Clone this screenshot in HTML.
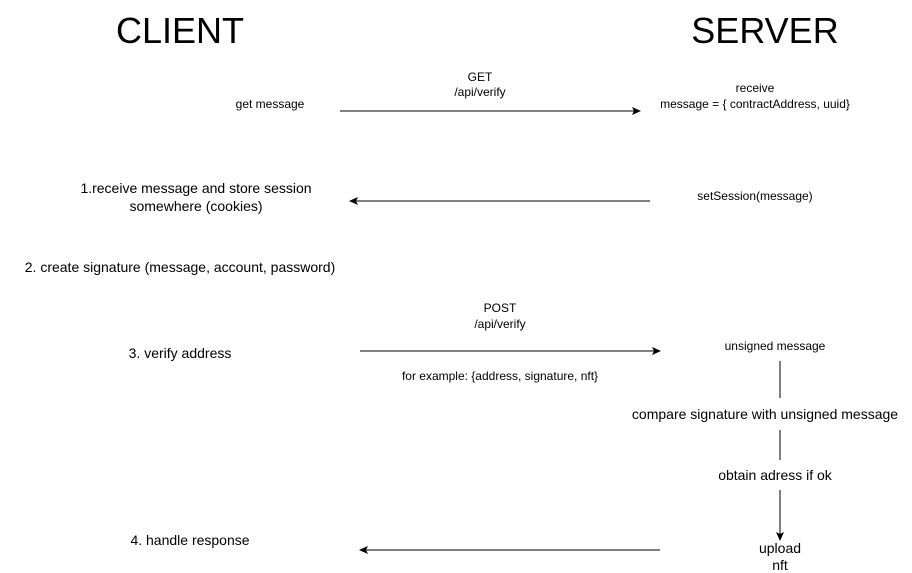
<!DOCTYPE html>
<html><head><meta charset="utf-8"><style>
html,body{margin:0;padding:0;background:#fff;}
svg{display:block;}
text{font-family:"Liberation Sans",Arial,sans-serif;fill:#000;text-anchor:middle;}
.s{font-size:12px;}
.m{font-size:14px;}
.t{font-size:36px;}
</style></head><body>
<svg width="912" height="573" viewBox="0 0 912 573" xmlns="http://www.w3.org/2000/svg">
<defs>
<marker id="a" markerWidth="10" markerHeight="10" refX="8" refY="5" orient="auto" markerUnits="userSpaceOnUse">
<path d="M0,1 L9,5 L0,9 L2,5 Z" fill="#000"/>
</marker>
</defs>
<text class="t" x="180" y="43">CLIENT</text>
<text class="t" x="765" y="43">SERVER</text>

<text class="s" x="270" y="108">get message</text>
<text class="s" x="480" y="81">GET</text>
<text class="s" x="480" y="96">/api/verify</text>
<line x1="340" y1="111" x2="640" y2="111" stroke="#000" stroke-width="1" marker-end="url(#a)"/>
<text class="s" x="755" y="92">receive</text>
<text class="s" x="755" y="108">message = { contractAddress, uuid}</text>

<text class="m" x="196" y="193">1.receive message and store session</text>
<text class="m" x="196" y="211">somewhere (cookies)</text>
<text class="s" x="755" y="200">setSession(message)</text>
<line x1="650" y1="201" x2="350" y2="201" stroke="#000" stroke-width="1" marker-end="url(#a)"/>

<text class="m" x="180" y="272">2. create signature (message, account, password)</text>

<text class="s" x="500" y="312">POST</text>
<text class="s" x="500" y="328">/api/verify</text>
<text class="m" x="180" y="358">3. verify address</text>
<line x1="360" y1="351" x2="660" y2="351" stroke="#000" stroke-width="1" marker-end="url(#a)"/>
<text class="s" x="500" y="380">for example: {address, signature, nft}</text>
<text class="s" x="775" y="350">unsigned message</text>
<line x1="780" y1="361" x2="780" y2="398" stroke="#000" stroke-width="1"/>
<text class="m" x="765" y="419">compare signature with unsigned message</text>
<line x1="780" y1="430" x2="780" y2="460" stroke="#000" stroke-width="1"/>
<text class="m" x="775" y="480">obtain adress if ok</text>
<line x1="780" y1="490" x2="780" y2="540" stroke="#000" stroke-width="1" marker-end="url(#a)"/>
<text class="m" x="780" y="553">upload</text>
<text class="m" x="780" y="570">nft</text>

<text class="m" x="190" y="545">4. handle response</text>
<line x1="660" y1="550" x2="360" y2="550" stroke="#000" stroke-width="1" marker-end="url(#a)"/>
</svg>
</body></html>
